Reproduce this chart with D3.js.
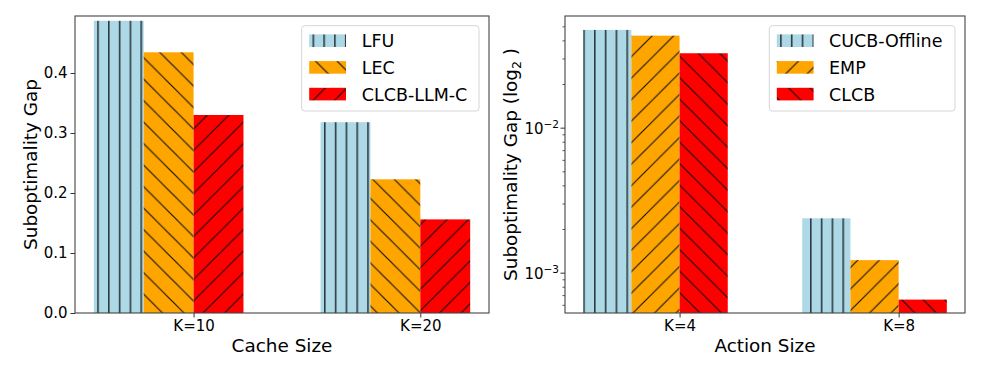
<!DOCTYPE html>
<html>
<head>
    <meta charset="utf-8">
    <title>Suboptimality gap bars</title>
    <script src="https://cdn.jsdelivr.net/npm/d3@7"></script>
    <style>
        body { margin: 0; background: #fff; }
        text { font-family: "DejaVu Sans", sans-serif; fill: #000; }
    </style>
</head>
<body>
<script>
    // left chart: cache size
    var cacheCats = ['K=10', 'K=20'];
    var lfu = [0.487, 0.318];
    var lec = [0.4345, 0.2228];
    var clcbLlmC = [0.330, 0.156];
    var cacheNames = ['LFU', 'LEC', 'CLCB-LLM-C'];
    var cacheTicks = [0, 0.1, 0.2, 0.3, 0.4];

    // right chart: action size (log scale)
    var actionCats = ['K=4', 'K=8'];
    var cucbOffline = [0.0472, 0.00237];
    var emp = [0.0431, 0.00122];
    var clcb = [0.0326, 0.000652];
    var actionNames = ['CUCB-Offline', 'EMP', 'CLCB'];
    var actionTicks = [1e-3, 1e-2];

    var width = 985, height = 368;
    var barW = 0.22;
    var plotTop = 16, plotBottom = 313;

    var svg = d3.select('body').append('svg')
            .attr('width', width).attr('height', height);

    // hatch patterns
    var defs = svg.append('defs');
    function vPattern(id, fill, off) {
        var p = defs.append('pattern').attr('id', id)
                .attr('patternUnits', 'userSpaceOnUse')
                .attr('x', off).attr('width', 10.8).attr('height', 20);
        p.append('rect').attr('width', 10.8).attr('height', 20).attr('fill', fill);
        p.append('line').attr('x1', 0.8).attr('x2', 0.8).attr('y1', 0).attr('y2', 20)
                .attr('stroke', '#2e3a40').attr('stroke-width', 1.6);
    }
    function dPattern(id, fill, dir) {
        var s = 21.5;
        var p = defs.append('pattern').attr('id', id)
                .attr('patternUnits', 'userSpaceOnUse')
                .attr('width', s).attr('height', s);
        p.append('rect').attr('width', s).attr('height', s).attr('fill', fill);
        var segs = dir === 'back'
                ? [[-2, -2, s + 2, s + 2], [-2, s - 2, 2, s + 2], [s - 2, -2, s + 2, 2]]
                : [[-2, s + 2, s + 2, -2], [-2, 2, 2, -2], [s - 2, s + 2, s + 2, s - 2]];
        segs.forEach(function (d) {
            p.append('line').attr('x1', d[0]).attr('y1', d[1]).attr('x2', d[2]).attr('y2', d[3])
                    .attr('stroke', '#111').attr('stroke-width', 1.1);
        });
    }
    vPattern('hVert', '#add8e6', 0);
    dPattern('hOrangeBack', '#ffa500', 'back');
    dPattern('hRedFwd', '#ff0000', 'fwd');
    dPattern('hOrangeFwd', '#ffa500', 'fwd');
    dPattern('hRedBack', '#ff0000', 'back');

    function drawChart(opt) {
        var x = d3.scaleLinear().domain([-0.523, 1.303]).range([opt.left, opt.right]);
        var y = opt.y;
        var g = svg.append('g');

        g.append('clipPath').attr('id', opt.id + 'clip')
                .append('rect').attr('x', opt.left).attr('y', plotTop)
                .attr('width', opt.right - opt.left).attr('height', plotBottom - plotTop);

        var bars = g.append('g').attr('clip-path', 'url(#' + opt.id + 'clip)');
        var base = y(y.domain()[0]);
        opt.series.forEach(function (vals, j) {
            bars.selectAll('rect.s' + j).data(vals).enter().append('rect')
                    .attr('class', 's' + j)
                    .attr('x', function (d, i) { return x(i + (j - 2) * barW); })
                    .attr('y', function (d) { return y(d); })
                    .attr('width', x(barW) - x(0))
                    .attr('height', function (d) { return base - y(d); })
                    .attr('fill', 'url(#' + opt.fills[j] + ')');
        });

        // x axis
        var xa = g.append('g').attr('transform', 'translate(0,' + plotBottom + ')')
                .call(d3.axisBottom(x).tickValues([0, 1])
                        .tickFormat(function (d) { return opt.cats[d]; })
                        .tickSize(4.5).tickPadding(3));
        xa.select('.domain').remove();
        xa.selectAll('text').attr('font-size', 15).attr('font-family', 'DejaVu Sans');
        xa.selectAll('line').attr('stroke', '#333');

        // y axis
        opt.yAxis(g);

        // frame
        g.append('rect').attr('x', opt.left).attr('y', plotTop)
                .attr('width', opt.right - opt.left).attr('height', plotBottom - plotTop)
                .attr('fill', 'none').attr('stroke', '#444').attr('stroke-width', 1.1);

        // axis labels
        g.append('text').attr('x', (opt.left + opt.right) / 2).attr('y', 352)
                .attr('text-anchor', 'middle').attr('font-size', 18.4).text(opt.xLabel);
        var yl = g.append('text')
                .attr('transform', 'translate(' + opt.yLabelX + ',' + ((plotTop + plotBottom) / 2) + ') rotate(-90)')
                .attr('text-anchor', 'middle').attr('font-size', 18.4);
        opt.yLabel(yl);

        // legend
        var lg = g.append('g').attr('transform', 'translate(' + opt.legX + ',25.7)');
        lg.append('rect').attr('width', opt.legW).attr('height', 85.3).attr('rx', 3)
                .attr('fill', '#fff').attr('fill-opacity', 0.8)
                .attr('stroke', '#d6d6d6').attr('stroke-width', 1);
        opt.names.forEach(function (n, j) {
            var cy = 15 + j * 26.7;
            lg.append('rect').attr('x', 7.5).attr('y', cy - 6.3).attr('width', 36.8).attr('height', 12.6)
                    .attr('fill', 'url(#' + opt.fills[j] + ')');
            lg.append('text').attr('x', opt.legTextX).attr('y', cy + 6.5)
                    .attr('font-size', 17.5).text(n);
        });
    }

    // left chart
    var yLin = d3.scaleLinear().domain([0, 0.495]).range([plotBottom, plotTop]);
    drawChart({
        id: 'c1', left: 75, right: 489, y: yLin,
        cats: cacheCats, series: [lfu, lec, clcbLlmC], names: cacheNames,
        fills: ['hVert', 'hOrangeBack', 'hRedFwd'],
        xLabel: 'Cache Size', yLabelX: 36.5,
        yLabel: function (t) { t.text('Suboptimality Gap'); },
        legX: 301.7, legW: 177.3, legTextX: 60,
        yAxis: function (g) {
            var ya = g.append('g').attr('transform', 'translate(75,0)')
                    .call(d3.axisLeft(yLin).tickValues(cacheTicks)
                            .tickFormat(d3.format('.1f')).tickSize(4.5).tickPadding(3));
            ya.select('.domain').remove();
            ya.selectAll('text').attr('font-size', 15).attr('font-family', 'DejaVu Sans');
            ya.selectAll('line').attr('stroke', '#333');
        }
    });

    // right chart
    var yLog = d3.scaleLog().domain([5.27e-4, 0.0589]).range([plotBottom, plotTop]);
    var minorTicks = [6e-4, 7e-4, 8e-4, 9e-4, 2e-3, 3e-3, 4e-3, 5e-3, 6e-3, 7e-3, 8e-3, 9e-3,
        2e-2, 3e-2, 4e-2, 5e-2];
    drawChart({
        id: 'c2', left: 565, right: 965, y: yLog,
        cats: actionCats, series: [cucbOffline, emp, clcb], names: actionNames,
        fills: ['hVert', 'hOrangeFwd', 'hRedBack'],
        xLabel: 'Action Size', yLabelX: 516.5,
        yLabel: function (t) {
            t.append('tspan').text('Suboptimality Gap (log');
            t.append('tspan').attr('font-size', 12.5).attr('dy', 4).text('2');
            t.append('tspan').attr('dy', -4).text(' )');
        },
        legX: 769.3, legW: 185.7, legTextX: 59.7,
        yAxis: function (g) {
            var yMin = g.append('g').attr('transform', 'translate(565,0)')
                    .call(d3.axisLeft(yLog).tickValues(minorTicks).tickFormat('').tickSize(2.5));
            yMin.select('.domain').remove();
            yMin.selectAll('line').attr('stroke', '#555');
            var ya = g.append('g').attr('transform', 'translate(565,0)')
                    .call(d3.axisLeft(yLog).tickValues(actionTicks).tickFormat('').tickSize(4.5));
            ya.select('.domain').remove();
            ya.selectAll('line').attr('stroke', '#333');
            ya.selectAll('.tick').append('text')
                    .attr('x', -6).attr('dy', '0.38em').attr('text-anchor', 'end')
                    .attr('fill', '#000').attr('font-size', 15).attr('font-family', 'DejaVu Sans')
                    .each(function (d) {
                        var t = d3.select(this);
                        t.append('tspan').text('10');
                        t.append('tspan').attr('font-size', 10.5).attr('dy', -6)
                                .text('\u2212' + Math.round(-Math.log10(d)));
                    });
        }
    });
</script>
</body>
</html>
